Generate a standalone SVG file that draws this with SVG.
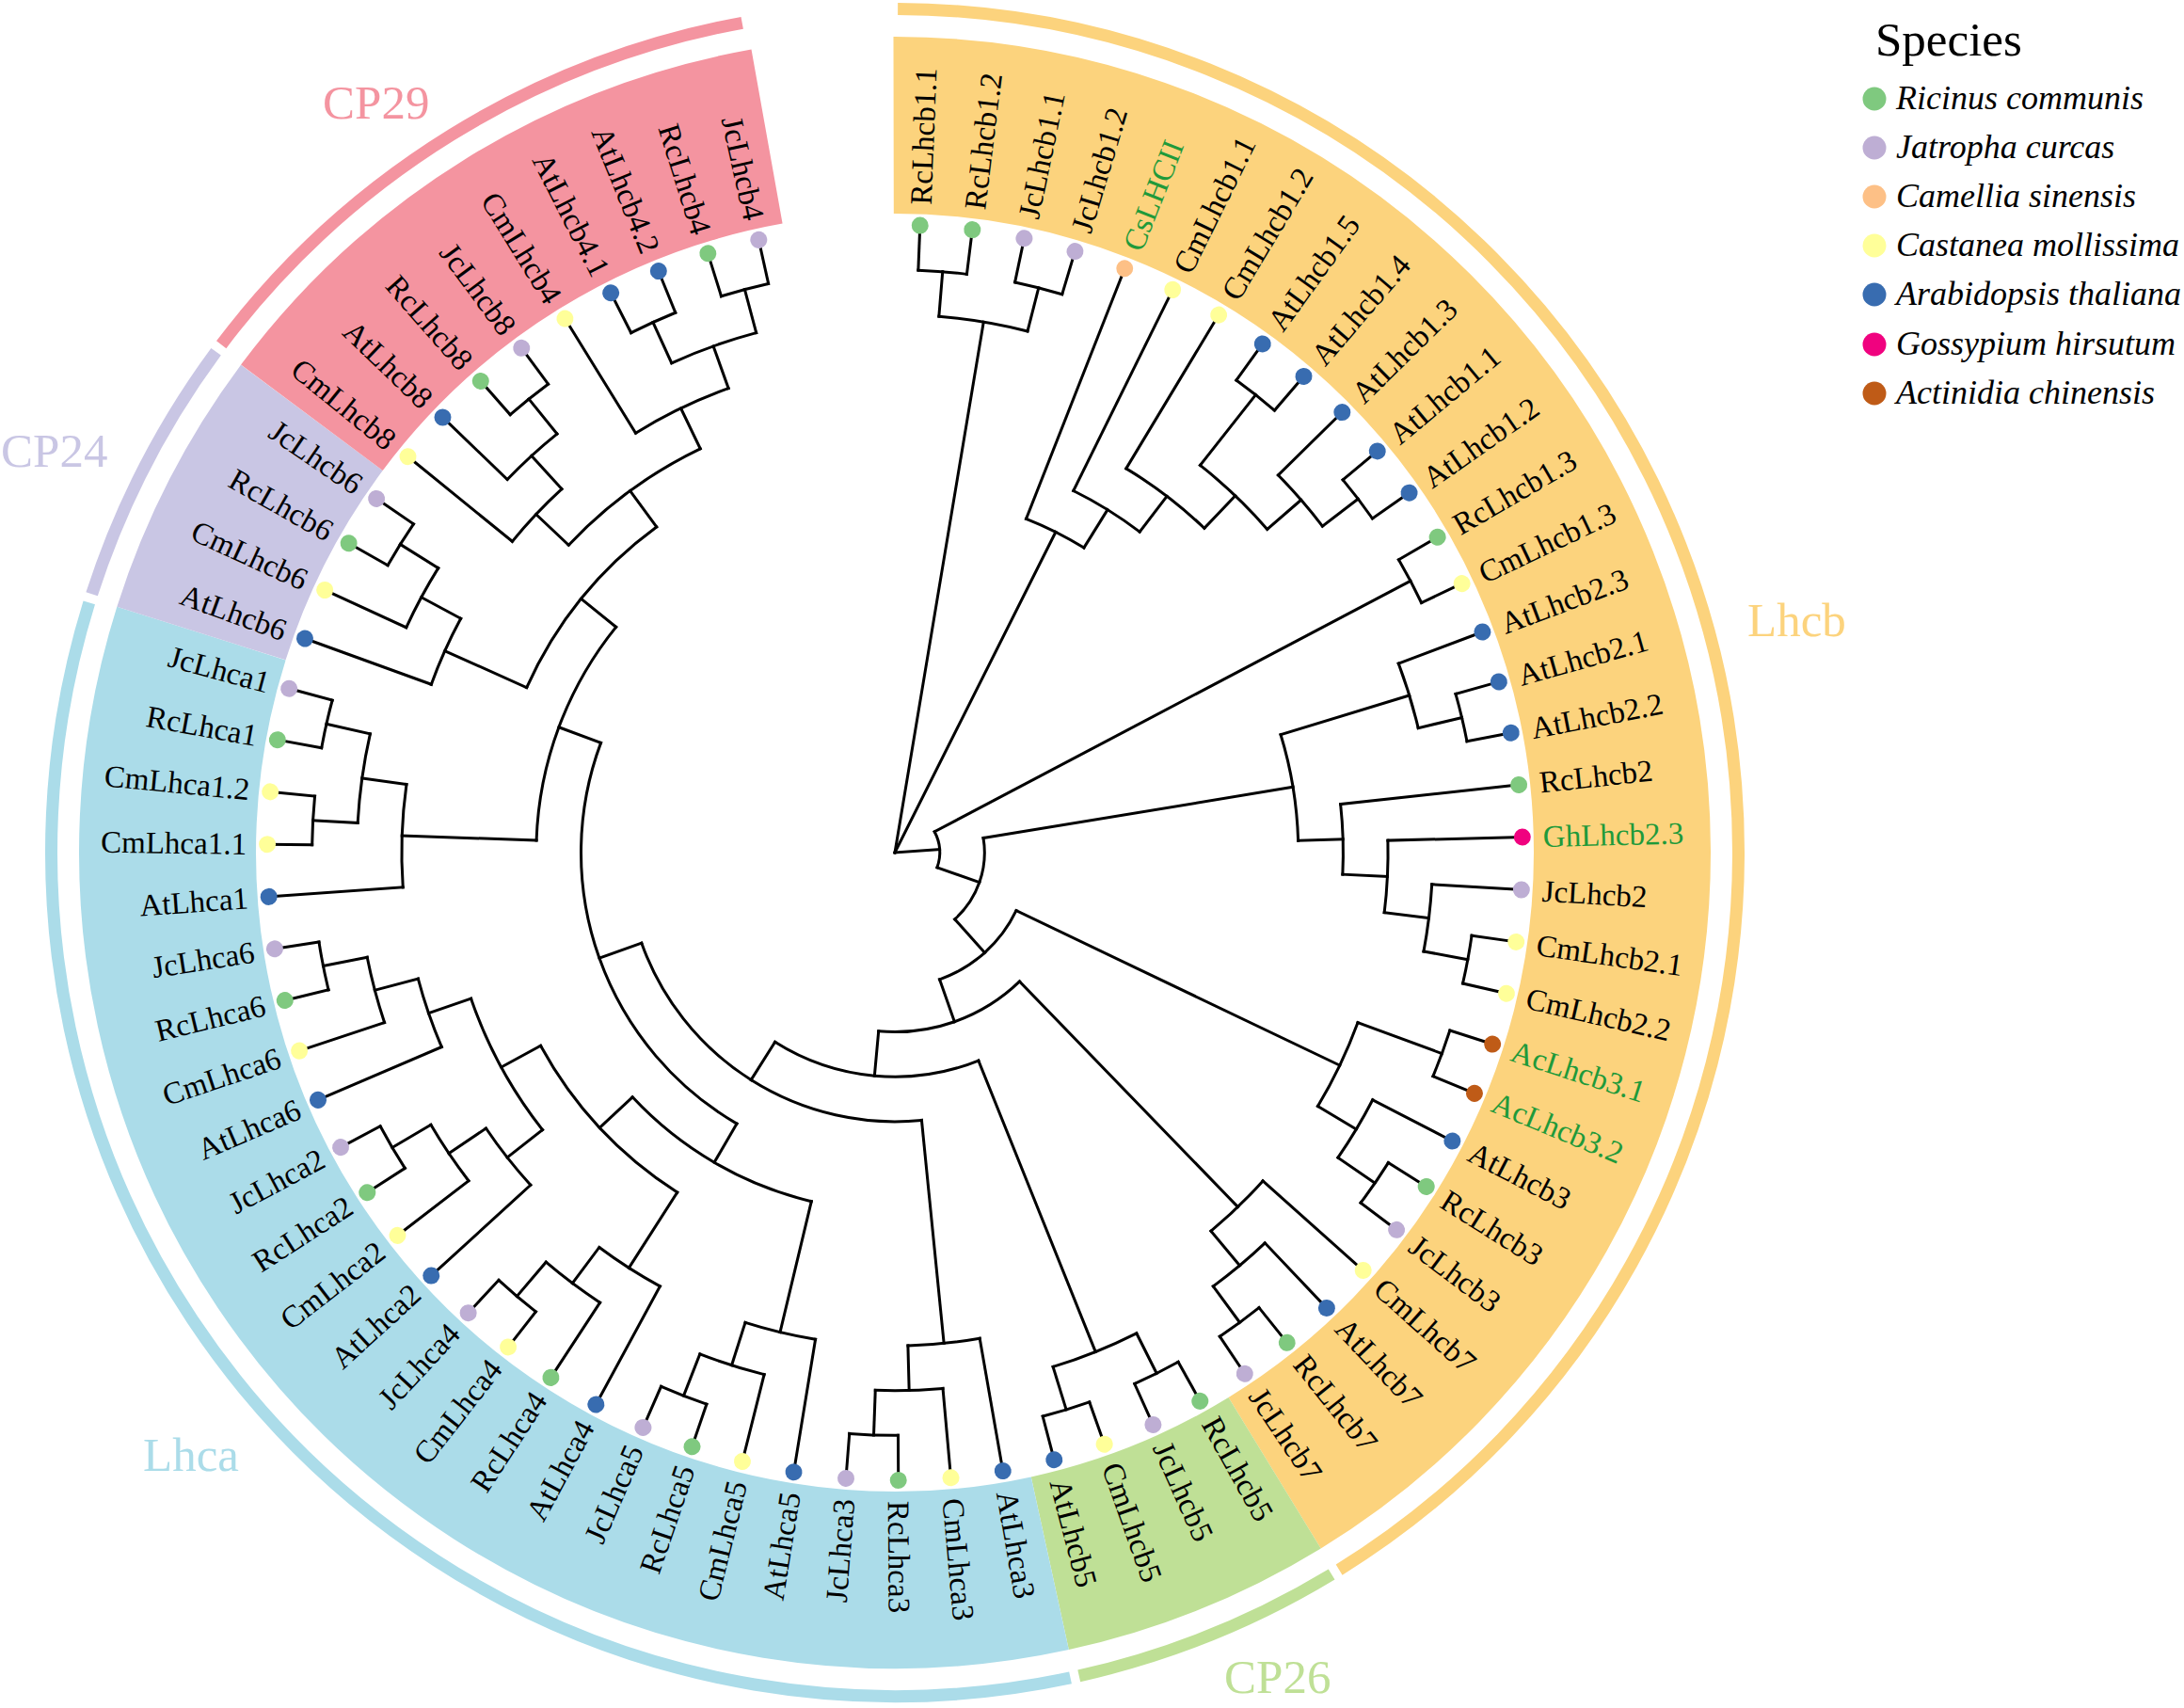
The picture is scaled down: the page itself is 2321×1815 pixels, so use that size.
<svg xmlns="http://www.w3.org/2000/svg" width="2321" height="1815" viewBox="0 0 2321 1815">
<style>
.br line,.br circle{stroke:#000;stroke-width:3;fill:none;stroke-linecap:square}
.tips text{font-family:"Liberation Serif","Times New Roman",serif;font-size:33px;fill:#000;dominant-baseline:central}
.tips text.f{text-anchor:end}
.tips text.gr{fill:#1f9a3a}
.band,.ring{fill:none}
.band{stroke-width:188}
.ring{stroke-width:13}
.Rc{fill:#7FC97F}.Jc{fill:#BEAED4}.Cs{fill:#FDC086}.Cm{fill:#FFFF99}.At{fill:#386CB0}.Gh{fill:#F0027F}.Ac{fill:#BF5B17}
.glab{font-family:"Liberation Serif","Times New Roman",serif;font-size:51px}
.leg text{font-family:"Liberation Serif","Times New Roman",serif;font-size:36px;font-style:italic;fill:#000}
</style>
<rect width="2321" height="1815" fill="#fff"/>
<g id="bands" transform="translate(951,906)">
<circle class="band" r="773" pathLength="360" stroke="#FCD37D" stroke-dasharray="148.62 360" transform="rotate(-90.10)"/>
<circle class="band" r="773" pathLength="360" stroke="#BFE096" stroke-dasharray="19.17 360" transform="rotate(58.52)"/>
<circle class="band" r="773" pathLength="360" stroke="#ABDCE9" stroke-dasharray="119.85 360" transform="rotate(77.69)"/>
<circle class="band" r="773" pathLength="360" stroke="#C9C6E4" stroke-dasharray="19.18 360" transform="rotate(197.54)"/>
<circle class="band" r="773" pathLength="360" stroke="#F494A0" stroke-dasharray="43.15 360" transform="rotate(216.72)"/>
<circle class="ring" r="896.5" pathLength="360" stroke="#FCD37D" stroke-dasharray="148.02 360" transform="rotate(-89.80)"/>
<circle class="ring" r="896.5" pathLength="360" stroke="#BFE096" stroke-dasharray="18.57 360" transform="rotate(58.82)"/>
<circle class="ring" r="896.5" pathLength="360" stroke="#ABDCE9" stroke-dasharray="119.25 360" transform="rotate(77.99)"/>
<circle class="ring" r="896.5" pathLength="360" stroke="#C9C6E4" stroke-dasharray="18.58 360" transform="rotate(197.84)"/>
<circle class="ring" r="896.5" pathLength="360" stroke="#F494A0" stroke-dasharray="42.55 360" transform="rotate(217.02)"/>
</g>
<g id="group-labels" class="glab">
<text x="1857" y="676" fill="#FCD37D">Lhcb</text>
<text x="343" y="126" fill="#F494A0">CP29</text>
<text x="1" y="496" fill="#C9C6E4">CP24</text>
<text x="152" y="1563" fill="#ABDCE9">Lhca</text>
<text x="1301" y="1799" fill="#BFE096">CP26</text>
</g>
<g id="connectors" class="br" transform="translate(951,906)">
<circle r="619.36" pathLength="360" stroke-dasharray="4.79 360" transform="rotate(-87.70)"/>
<circle r="619.36" pathLength="360" stroke-dasharray="4.79 360" transform="rotate(-78.11)"/>
<circle r="619.36" pathLength="360" stroke-dasharray="4.79 360" transform="rotate(-54.14)"/>
<circle r="619.36" pathLength="360" stroke-dasharray="4.79 360" transform="rotate(-39.76)"/>
<circle r="619.36" pathLength="360" stroke-dasharray="4.79 360" transform="rotate(-30.17)"/>
<circle r="619.36" pathLength="360" stroke-dasharray="4.79 360" transform="rotate(-15.79)"/>
<circle r="619.36" pathLength="360" stroke-dasharray="4.79 360" transform="rotate(8.18)"/>
<circle r="619.36" pathLength="360" stroke-dasharray="4.79 360" transform="rotate(17.77)"/>
<circle r="619.36" pathLength="360" stroke-dasharray="4.79 360" transform="rotate(32.15)"/>
<circle r="619.36" pathLength="360" stroke-dasharray="4.79 360" transform="rotate(51.33)"/>
<circle r="619.36" pathLength="360" stroke-dasharray="4.79 360" transform="rotate(60.91)"/>
<circle r="619.36" pathLength="360" stroke-dasharray="4.79 360" transform="rotate(70.50)"/>
<circle r="619.36" pathLength="360" stroke-dasharray="4.79 360" transform="rotate(89.68)"/>
<circle r="619.36" pathLength="360" stroke-dasharray="4.79 360" transform="rotate(108.85)"/>
<circle r="619.36" pathLength="360" stroke-dasharray="4.79 360" transform="rotate(128.03)"/>
<circle r="619.36" pathLength="360" stroke-dasharray="4.79 360" transform="rotate(147.21)"/>
<circle r="619.36" pathLength="360" stroke-dasharray="4.79 360" transform="rotate(166.38)"/>
<circle r="619.36" pathLength="360" stroke-dasharray="4.79 360" transform="rotate(180.76)"/>
<circle r="619.36" pathLength="360" stroke-dasharray="4.79 360" transform="rotate(190.35)"/>
<circle r="619.36" pathLength="360" stroke-dasharray="4.79 360" transform="rotate(209.53)"/>
<circle r="619.36" pathLength="360" stroke-dasharray="4.79 360" transform="rotate(228.70)"/>
<circle r="619.36" pathLength="360" stroke-dasharray="4.79 360" transform="rotate(243.09)"/>
<circle r="619.36" pathLength="360" stroke-dasharray="4.79 360" transform="rotate(252.67)"/>
<circle r="571.71" pathLength="360" stroke-dasharray="9.58 360" transform="rotate(-85.30)"/>
<circle r="571.71" pathLength="360" stroke-dasharray="7.19 360" transform="rotate(-44.55)"/>
<circle r="571.71" pathLength="360" stroke-dasharray="7.19 360" transform="rotate(-20.58)"/>
<circle r="571.71" pathLength="360" stroke-dasharray="7.19 360" transform="rotate(3.39)"/>
<circle r="571.71" pathLength="360" stroke-dasharray="7.19 360" transform="rotate(27.36)"/>
<circle r="571.71" pathLength="360" stroke-dasharray="7.19 360" transform="rotate(46.53)"/>
<circle r="571.71" pathLength="360" stroke-dasharray="9.59 360" transform="rotate(63.31)"/>
<circle r="571.71" pathLength="360" stroke-dasharray="7.20 360" transform="rotate(84.88)"/>
<circle r="571.71" pathLength="360" stroke-dasharray="7.19 360" transform="rotate(104.06)"/>
<circle r="571.71" pathLength="360" stroke-dasharray="7.19 360" transform="rotate(123.24)"/>
<circle r="571.71" pathLength="360" stroke-dasharray="7.19 360" transform="rotate(142.41)"/>
<circle r="571.71" pathLength="360" stroke-dasharray="7.19 360" transform="rotate(161.59)"/>
<circle r="571.71" pathLength="360" stroke-dasharray="9.59 360" transform="rotate(183.16)"/>
<circle r="571.71" pathLength="360" stroke-dasharray="7.20 360" transform="rotate(204.73)"/>
<circle r="571.71" pathLength="360" stroke-dasharray="7.19 360" transform="rotate(223.91)"/>
<circle r="571.71" pathLength="360" stroke-dasharray="9.59 360" transform="rotate(245.48)"/>
<circle r="524.07" pathLength="360" stroke-dasharray="10.79 360" transform="rotate(-51.75)"/>
<circle r="524.07" pathLength="360" stroke-dasharray="8.39 360" transform="rotate(-1.41)"/>
<circle r="524.07" pathLength="360" stroke-dasharray="10.78 360" transform="rotate(20.17)"/>
<circle r="524.07" pathLength="360" stroke-dasharray="8.39 360" transform="rotate(41.74)"/>
<circle r="524.07" pathLength="360" stroke-dasharray="8.39 360" transform="rotate(80.09)"/>
<circle r="524.07" pathLength="360" stroke-dasharray="8.39 360" transform="rotate(99.27)"/>
<circle r="524.07" pathLength="360" stroke-dasharray="8.39 360" transform="rotate(118.44)"/>
<circle r="524.07" pathLength="360" stroke-dasharray="8.39 360" transform="rotate(137.62)"/>
<circle r="524.07" pathLength="360" stroke-dasharray="8.39 360" transform="rotate(156.79)"/>
<circle r="524.07" pathLength="360" stroke-dasharray="11.98 360" transform="rotate(175.97)"/>
<circle r="524.07" pathLength="360" stroke-dasharray="8.39 360" transform="rotate(199.94)"/>
<circle r="524.07" pathLength="360" stroke-dasharray="8.39 360" transform="rotate(219.12)"/>
<circle r="524.07" pathLength="360" stroke-dasharray="11.99 360" transform="rotate(238.29)"/>
<circle r="476.43" pathLength="360" stroke-dasharray="12.59 360" transform="rotate(-58.94)"/>
<circle r="476.43" pathLength="360" stroke-dasharray="8.99 360" transform="rotate(-6.20)"/>
<circle r="476.43" pathLength="360" stroke-dasharray="19.18 360" transform="rotate(141.81)"/>
<circle r="476.43" pathLength="360" stroke-dasharray="20.97 360" transform="rotate(223.31)"/>
<circle r="428.79" pathLength="360" stroke-dasharray="11.09 360" transform="rotate(-63.73)"/>
<circle r="428.79" pathLength="360" stroke-dasharray="15.28 360" transform="rotate(-16.99)"/>
<circle r="428.79" pathLength="360" stroke-dasharray="28.76 360" transform="rotate(122.64)"/>
<circle r="428.79" pathLength="360" stroke-dasharray="29.66 360" transform="rotate(204.14)"/>
<circle r="381.14" pathLength="360" stroke-dasharray="10.33 360" transform="rotate(-68.52)"/>
<circle r="381.14" pathLength="360" stroke-dasharray="33.56 360" transform="rotate(103.46)"/>
<circle r="381.14" pathLength="360" stroke-dasharray="37.01 360" transform="rotate(181.96)"/>
<circle r="333.50" pathLength="360" stroke-dasharray="80.22 360" transform="rotate(120.24)"/>
<circle r="285.86" pathLength="360" stroke-dasharray="76.06 360" transform="rotate(84.29)"/>
<circle r="238.21" pathLength="360" stroke-dasharray="54.22 360" transform="rotate(68.10)"/>
<circle r="190.57" pathLength="360" stroke-dasharray="49.28 360" transform="rotate(45.93)"/>
<circle r="142.93" pathLength="360" stroke-dasharray="45.01 360" transform="rotate(25.56)"/>
<circle r="95.29" pathLength="360" stroke-dasharray="57.42 360" transform="rotate(-9.35)"/>
<circle r="47.64" pathLength="360" stroke-dasharray="47.14 360" transform="rotate(-27.78)"/>
<line x1="0" x2="571.71" transform="rotate(-80.51)"/>
<line x1="0" x2="381.14" transform="rotate(-63.36)"/>
<line x1="0" x2="47.64" transform="rotate(-4.21)"/>
<line x1="571.71" x2="619.36" transform="rotate(-85.30)"/>
<line x1="571.71" x2="619.36" transform="rotate(-75.72)"/>
<line x1="524.07" x2="619.36" transform="rotate(-51.75)"/>
<line x1="571.71" x2="619.36" transform="rotate(-37.36)"/>
<line x1="47.64" x2="619.36" transform="rotate(-27.78)"/>
<line x1="571.71" x2="619.36" transform="rotate(-13.39)"/>
<line x1="571.71" x2="619.36" transform="rotate(10.58)"/>
<line x1="524.07" x2="619.36" transform="rotate(20.17)"/>
<line x1="571.71" x2="619.36" transform="rotate(34.55)"/>
<line x1="571.71" x2="619.36" transform="rotate(53.72)"/>
<line x1="571.71" x2="619.36" transform="rotate(63.31)"/>
<line x1="571.71" x2="619.36" transform="rotate(72.90)"/>
<line x1="571.71" x2="619.36" transform="rotate(92.08)"/>
<line x1="571.71" x2="619.36" transform="rotate(111.25)"/>
<line x1="571.71" x2="619.36" transform="rotate(130.43)"/>
<line x1="571.71" x2="619.36" transform="rotate(149.60)"/>
<line x1="571.71" x2="619.36" transform="rotate(168.78)"/>
<line x1="571.71" x2="619.36" transform="rotate(183.16)"/>
<line x1="571.71" x2="619.36" transform="rotate(192.75)"/>
<line x1="571.71" x2="619.36" transform="rotate(211.93)"/>
<line x1="571.71" x2="619.36" transform="rotate(231.10)"/>
<line x1="571.71" x2="619.36" transform="rotate(245.48)"/>
<line x1="571.71" x2="619.36" transform="rotate(255.07)"/>
<line x1="524.07" x2="571.71" transform="rotate(-40.96)"/>
<line x1="476.43" x2="524.07" transform="rotate(-46.35)"/>
<line x1="428.79" x2="476.43" transform="rotate(-52.64)"/>
<line x1="381.14" x2="428.79" transform="rotate(-58.19)"/>
<line x1="428.79" x2="571.71" transform="rotate(-16.99)"/>
<line x1="524.07" x2="571.71" transform="rotate(6.98)"/>
<line x1="476.43" x2="524.07" transform="rotate(2.79)"/>
<line x1="428.79" x2="476.43" transform="rotate(-1.71)"/>
<line x1="95.29" x2="428.79" transform="rotate(-9.35)"/>
<line x1="524.07" x2="571.71" transform="rotate(30.95)"/>
<line x1="142.93" x2="524.07" transform="rotate(25.56)"/>
<line x1="524.07" x2="571.71" transform="rotate(50.13)"/>
<line x1="190.57" x2="524.07" transform="rotate(45.93)"/>
<line x1="238.21" x2="571.71" transform="rotate(68.10)"/>
<line x1="524.07" x2="571.71" transform="rotate(88.48)"/>
<line x1="285.86" x2="524.07" transform="rotate(84.29)"/>
<line x1="524.07" x2="571.71" transform="rotate(107.66)"/>
<line x1="381.14" x2="524.07" transform="rotate(103.46)"/>
<line x1="524.07" x2="571.71" transform="rotate(126.83)"/>
<line x1="428.79" x2="524.07" transform="rotate(122.64)"/>
<line x1="524.07" x2="571.71" transform="rotate(146.01)"/>
<line x1="476.43" x2="524.07" transform="rotate(141.81)"/>
<line x1="524.07" x2="571.71" transform="rotate(165.18)"/>
<line x1="476.43" x2="524.07" transform="rotate(160.99)"/>
<line x1="428.79" x2="476.43" transform="rotate(151.40)"/>
<line x1="381.14" x2="428.79" transform="rotate(137.02)"/>
<line x1="333.50" x2="381.14" transform="rotate(120.24)"/>
<line x1="524.07" x2="571.71" transform="rotate(187.95)"/>
<line x1="381.14" x2="524.07" transform="rotate(181.96)"/>
<line x1="524.07" x2="571.71" transform="rotate(208.33)"/>
<line x1="428.79" x2="524.07" transform="rotate(204.14)"/>
<line x1="524.07" x2="571.71" transform="rotate(227.51)"/>
<line x1="476.43" x2="524.07" transform="rotate(223.31)"/>
<line x1="524.07" x2="571.71" transform="rotate(250.28)"/>
<line x1="476.43" x2="524.07" transform="rotate(244.28)"/>
<line x1="428.79" x2="476.43" transform="rotate(233.80)"/>
<line x1="381.14" x2="428.79" transform="rotate(218.97)"/>
<line x1="333.50" x2="381.14" transform="rotate(200.46)"/>
<line x1="285.86" x2="333.50" transform="rotate(160.35)"/>
<line x1="238.21" x2="285.86" transform="rotate(122.32)"/>
<line x1="190.57" x2="238.21" transform="rotate(95.21)"/>
<line x1="142.93" x2="190.57" transform="rotate(70.57)"/>
<line x1="95.29" x2="142.93" transform="rotate(48.07)"/>
<line x1="47.64" x2="95.29" transform="rotate(19.36)"/>
<line x1="619.36" x2="667" transform="rotate(-87.70)"/>
<line x1="619.36" x2="667" transform="rotate(-82.91)"/>
<line x1="619.36" x2="667" transform="rotate(-78.11)"/>
<line x1="619.36" x2="667" transform="rotate(-73.32)"/>
<line x1="381.14" x2="667" transform="rotate(-68.52)"/>
<line x1="428.79" x2="667" transform="rotate(-63.73)"/>
<line x1="476.43" x2="667" transform="rotate(-58.94)"/>
<line x1="619.36" x2="667" transform="rotate(-54.14)"/>
<line x1="619.36" x2="667" transform="rotate(-49.35)"/>
<line x1="571.71" x2="667" transform="rotate(-44.55)"/>
<line x1="619.36" x2="667" transform="rotate(-39.76)"/>
<line x1="619.36" x2="667" transform="rotate(-34.97)"/>
<line x1="619.36" x2="667" transform="rotate(-30.17)"/>
<line x1="619.36" x2="667" transform="rotate(-25.38)"/>
<line x1="571.71" x2="667" transform="rotate(-20.58)"/>
<line x1="619.36" x2="667" transform="rotate(-15.79)"/>
<line x1="619.36" x2="667" transform="rotate(-11.00)"/>
<line x1="476.43" x2="667" transform="rotate(-6.20)"/>
<line x1="524.07" x2="667" transform="rotate(-1.41)"/>
<line x1="571.71" x2="667" transform="rotate(3.39)"/>
<line x1="619.36" x2="667" transform="rotate(8.18)"/>
<line x1="619.36" x2="667" transform="rotate(12.97)"/>
<line x1="619.36" x2="667" transform="rotate(17.77)"/>
<line x1="619.36" x2="667" transform="rotate(22.56)"/>
<line x1="571.71" x2="667" transform="rotate(27.36)"/>
<line x1="619.36" x2="667" transform="rotate(32.15)"/>
<line x1="619.36" x2="667" transform="rotate(36.94)"/>
<line x1="524.07" x2="667" transform="rotate(41.74)"/>
<line x1="571.71" x2="667" transform="rotate(46.53)"/>
<line x1="619.36" x2="667" transform="rotate(51.33)"/>
<line x1="619.36" x2="667" transform="rotate(56.12)"/>
<line x1="619.36" x2="667" transform="rotate(60.91)"/>
<line x1="619.36" x2="667" transform="rotate(65.71)"/>
<line x1="619.36" x2="667" transform="rotate(70.50)"/>
<line x1="619.36" x2="667" transform="rotate(75.30)"/>
<line x1="524.07" x2="667" transform="rotate(80.09)"/>
<line x1="571.71" x2="667" transform="rotate(84.88)"/>
<line x1="619.36" x2="667" transform="rotate(89.68)"/>
<line x1="619.36" x2="667" transform="rotate(94.47)"/>
<line x1="524.07" x2="667" transform="rotate(99.27)"/>
<line x1="571.71" x2="667" transform="rotate(104.06)"/>
<line x1="619.36" x2="667" transform="rotate(108.85)"/>
<line x1="619.36" x2="667" transform="rotate(113.65)"/>
<line x1="524.07" x2="667" transform="rotate(118.44)"/>
<line x1="571.71" x2="667" transform="rotate(123.24)"/>
<line x1="619.36" x2="667" transform="rotate(128.03)"/>
<line x1="619.36" x2="667" transform="rotate(132.82)"/>
<line x1="524.07" x2="667" transform="rotate(137.62)"/>
<line x1="571.71" x2="667" transform="rotate(142.41)"/>
<line x1="619.36" x2="667" transform="rotate(147.21)"/>
<line x1="619.36" x2="667" transform="rotate(152.00)"/>
<line x1="524.07" x2="667" transform="rotate(156.79)"/>
<line x1="571.71" x2="667" transform="rotate(161.59)"/>
<line x1="619.36" x2="667" transform="rotate(166.38)"/>
<line x1="619.36" x2="667" transform="rotate(171.18)"/>
<line x1="524.07" x2="667" transform="rotate(175.97)"/>
<line x1="619.36" x2="667" transform="rotate(180.76)"/>
<line x1="619.36" x2="667" transform="rotate(185.56)"/>
<line x1="619.36" x2="667" transform="rotate(190.35)"/>
<line x1="619.36" x2="667" transform="rotate(195.15)"/>
<line x1="524.07" x2="667" transform="rotate(199.94)"/>
<line x1="571.71" x2="667" transform="rotate(204.73)"/>
<line x1="619.36" x2="667" transform="rotate(209.53)"/>
<line x1="619.36" x2="667" transform="rotate(214.32)"/>
<line x1="524.07" x2="667" transform="rotate(219.12)"/>
<line x1="571.71" x2="667" transform="rotate(223.91)"/>
<line x1="619.36" x2="667" transform="rotate(228.70)"/>
<line x1="619.36" x2="667" transform="rotate(233.50)"/>
<line x1="524.07" x2="667" transform="rotate(238.29)"/>
<line x1="619.36" x2="667" transform="rotate(243.09)"/>
<line x1="619.36" x2="667" transform="rotate(247.88)"/>
<line x1="619.36" x2="667" transform="rotate(252.67)"/>
<line x1="619.36" x2="667" transform="rotate(257.47)"/>
</g>
<g id="tips" class="tips" transform="translate(951,906)">
<g id="t01"><circle class="Rc" cx="667" r="9" transform="rotate(-87.70)"/><text transform="rotate(-87.70) translate(689 0)">RcLhcb1.1</text></g>
<g id="t02"><circle class="Rc" cx="667" r="9" transform="rotate(-82.91)"/><text transform="rotate(-82.91) translate(689 0)">RcLhcb1.2</text></g>
<g id="t03"><circle class="Jc" cx="667" r="9" transform="rotate(-78.11)"/><text transform="rotate(-78.11) translate(689 0)">JcLhcb1.1</text></g>
<g id="t04"><circle class="Jc" cx="667" r="9" transform="rotate(-73.32)"/><text transform="rotate(-73.32) translate(689 0)">JcLhcb1.2</text></g>
<g id="t05"><circle class="Cs" cx="667" r="9" transform="rotate(-68.52)"/><text class="gr" transform="rotate(-68.52) translate(689 0)">CsLHCII</text></g>
<g id="t06"><circle class="Cm" cx="667" r="9" transform="rotate(-63.73)"/><text transform="rotate(-63.73) translate(689 0)">CmLhcb1.1</text></g>
<g id="t07"><circle class="Cm" cx="667" r="9" transform="rotate(-58.94)"/><text transform="rotate(-58.94) translate(689 0)">CmLhcb1.2</text></g>
<g id="t08"><circle class="At" cx="667" r="9" transform="rotate(-54.14)"/><text transform="rotate(-54.14) translate(689 0)">AtLhcb1.5</text></g>
<g id="t09"><circle class="At" cx="667" r="9" transform="rotate(-49.35)"/><text transform="rotate(-49.35) translate(689 0)">AtLhcb1.4</text></g>
<g id="t10"><circle class="At" cx="667" r="9" transform="rotate(-44.55)"/><text transform="rotate(-44.55) translate(689 0)">AtLhcb1.3</text></g>
<g id="t11"><circle class="At" cx="667" r="9" transform="rotate(-39.76)"/><text transform="rotate(-39.76) translate(689 0)">AtLhcb1.1</text></g>
<g id="t12"><circle class="At" cx="667" r="9" transform="rotate(-34.97)"/><text transform="rotate(-34.97) translate(689 0)">AtLhcb1.2</text></g>
<g id="t13"><circle class="Rc" cx="667" r="9" transform="rotate(-30.17)"/><text transform="rotate(-30.17) translate(689 0)">RcLhcb1.3</text></g>
<g id="t14"><circle class="Cm" cx="667" r="9" transform="rotate(-25.38)"/><text transform="rotate(-25.38) translate(689 0)">CmLhcb1.3</text></g>
<g id="t15"><circle class="At" cx="667" r="9" transform="rotate(-20.58)"/><text transform="rotate(-20.58) translate(689 0)">AtLhcb2.3</text></g>
<g id="t16"><circle class="At" cx="667" r="9" transform="rotate(-15.79)"/><text transform="rotate(-15.79) translate(689 0)">AtLhcb2.1</text></g>
<g id="t17"><circle class="At" cx="667" r="9" transform="rotate(-11.00)"/><text transform="rotate(-11.00) translate(689 0)">AtLhcb2.2</text></g>
<g id="t18"><circle class="Rc" cx="667" r="9" transform="rotate(-6.20)"/><text transform="rotate(-6.20) translate(689 0)">RcLhcb2</text></g>
<g id="t19"><circle class="Gh" cx="667" r="9" transform="rotate(-1.41)"/><text class="gr" transform="rotate(-1.41) translate(689 0)">GhLhcb2.3</text></g>
<g id="t20"><circle class="Jc" cx="667" r="9" transform="rotate(3.39)"/><text transform="rotate(3.39) translate(689 0)">JcLhcb2</text></g>
<g id="t21"><circle class="Cm" cx="667" r="9" transform="rotate(8.18)"/><text transform="rotate(8.18) translate(689 0)">CmLhcb2.1</text></g>
<g id="t22"><circle class="Cm" cx="667" r="9" transform="rotate(12.97)"/><text transform="rotate(12.97) translate(689 0)">CmLhcb2.2</text></g>
<g id="t23"><circle class="Ac" cx="667" r="9" transform="rotate(17.77)"/><text class="gr" transform="rotate(17.77) translate(689 0)">AcLhcb3.1</text></g>
<g id="t24"><circle class="Ac" cx="667" r="9" transform="rotate(22.56)"/><text class="gr" transform="rotate(22.56) translate(689 0)">AcLhcb3.2</text></g>
<g id="t25"><circle class="At" cx="667" r="9" transform="rotate(27.36)"/><text transform="rotate(27.36) translate(689 0)">AtLhcb3</text></g>
<g id="t26"><circle class="Rc" cx="667" r="9" transform="rotate(32.15)"/><text transform="rotate(32.15) translate(689 0)">RcLhcb3</text></g>
<g id="t27"><circle class="Jc" cx="667" r="9" transform="rotate(36.94)"/><text transform="rotate(36.94) translate(689 0)">JcLhcb3</text></g>
<g id="t28"><circle class="Cm" cx="667" r="9" transform="rotate(41.74)"/><text transform="rotate(41.74) translate(689 0)">CmLhcb7</text></g>
<g id="t29"><circle class="At" cx="667" r="9" transform="rotate(46.53)"/><text transform="rotate(46.53) translate(689 0)">AtLhcb7</text></g>
<g id="t30"><circle class="Rc" cx="667" r="9" transform="rotate(51.33)"/><text transform="rotate(51.33) translate(689 0)">RcLhcb7</text></g>
<g id="t31"><circle class="Jc" cx="667" r="9" transform="rotate(56.12)"/><text transform="rotate(56.12) translate(689 0)">JcLhcb7</text></g>
<g id="t32"><circle class="Rc" cx="667" r="9" transform="rotate(60.91)"/><text transform="rotate(60.91) translate(689 0)">RcLhcb5</text></g>
<g id="t33"><circle class="Jc" cx="667" r="9" transform="rotate(65.71)"/><text transform="rotate(65.71) translate(689 0)">JcLhcb5</text></g>
<g id="t34"><circle class="Cm" cx="667" r="9" transform="rotate(70.50)"/><text transform="rotate(70.50) translate(689 0)">CmLhcb5</text></g>
<g id="t35"><circle class="At" cx="667" r="9" transform="rotate(75.30)"/><text transform="rotate(75.30) translate(689 0)">AtLhcb5</text></g>
<g id="t36"><circle class="At" cx="667" r="9" transform="rotate(80.09)"/><text transform="rotate(80.09) translate(689 0)">AtLhca3</text></g>
<g id="t37"><circle class="Cm" cx="667" r="9" transform="rotate(84.88)"/><text transform="rotate(84.88) translate(689 0)">CmLhca3</text></g>
<g id="t38"><circle class="Rc" cx="667" r="9" transform="rotate(89.68)"/><text transform="rotate(89.68) translate(689 0)">RcLhca3</text></g>
<g id="t39"><circle class="Jc" cx="667" r="9" transform="rotate(94.47)"/><text class="f" transform="rotate(94.47) translate(689 0) rotate(180)">JcLhca3</text></g>
<g id="t40"><circle class="At" cx="667" r="9" transform="rotate(99.27)"/><text class="f" transform="rotate(99.27) translate(689 0) rotate(180)">AtLhca5</text></g>
<g id="t41"><circle class="Cm" cx="667" r="9" transform="rotate(104.06)"/><text class="f" transform="rotate(104.06) translate(689 0) rotate(180)">CmLhca5</text></g>
<g id="t42"><circle class="Rc" cx="667" r="9" transform="rotate(108.85)"/><text class="f" transform="rotate(108.85) translate(689 0) rotate(180)">RcLhca5</text></g>
<g id="t43"><circle class="Jc" cx="667" r="9" transform="rotate(113.65)"/><text class="f" transform="rotate(113.65) translate(689 0) rotate(180)">JcLhca5</text></g>
<g id="t44"><circle class="At" cx="667" r="9" transform="rotate(118.44)"/><text class="f" transform="rotate(118.44) translate(689 0) rotate(180)">AtLhca4</text></g>
<g id="t45"><circle class="Rc" cx="667" r="9" transform="rotate(123.24)"/><text class="f" transform="rotate(123.24) translate(689 0) rotate(180)">RcLhca4</text></g>
<g id="t46"><circle class="Cm" cx="667" r="9" transform="rotate(128.03)"/><text class="f" transform="rotate(128.03) translate(689 0) rotate(180)">CmLhca4</text></g>
<g id="t47"><circle class="Jc" cx="667" r="9" transform="rotate(132.82)"/><text class="f" transform="rotate(132.82) translate(689 0) rotate(180)">JcLhca4</text></g>
<g id="t48"><circle class="At" cx="667" r="9" transform="rotate(137.62)"/><text class="f" transform="rotate(137.62) translate(689 0) rotate(180)">AtLhca2</text></g>
<g id="t49"><circle class="Cm" cx="667" r="9" transform="rotate(142.41)"/><text class="f" transform="rotate(142.41) translate(689 0) rotate(180)">CmLhca2</text></g>
<g id="t50"><circle class="Rc" cx="667" r="9" transform="rotate(147.21)"/><text class="f" transform="rotate(147.21) translate(689 0) rotate(180)">RcLhca2</text></g>
<g id="t51"><circle class="Jc" cx="667" r="9" transform="rotate(152.00)"/><text class="f" transform="rotate(152.00) translate(689 0) rotate(180)">JcLhca2</text></g>
<g id="t52"><circle class="At" cx="667" r="9" transform="rotate(156.79)"/><text class="f" transform="rotate(156.79) translate(689 0) rotate(180)">AtLhca6</text></g>
<g id="t53"><circle class="Cm" cx="667" r="9" transform="rotate(161.59)"/><text class="f" transform="rotate(161.59) translate(689 0) rotate(180)">CmLhca6</text></g>
<g id="t54"><circle class="Rc" cx="667" r="9" transform="rotate(166.38)"/><text class="f" transform="rotate(166.38) translate(689 0) rotate(180)">RcLhca6</text></g>
<g id="t55"><circle class="Jc" cx="667" r="9" transform="rotate(171.18)"/><text class="f" transform="rotate(171.18) translate(689 0) rotate(180)">JcLhca6</text></g>
<g id="t56"><circle class="At" cx="667" r="9" transform="rotate(175.97)"/><text class="f" transform="rotate(175.97) translate(689 0) rotate(180)">AtLhca1</text></g>
<g id="t57"><circle class="Cm" cx="667" r="9" transform="rotate(180.76)"/><text class="f" transform="rotate(180.76) translate(689 0) rotate(180)">CmLhca1.1</text></g>
<g id="t58"><circle class="Cm" cx="667" r="9" transform="rotate(185.56)"/><text class="f" transform="rotate(185.56) translate(689 0) rotate(180)">CmLhca1.2</text></g>
<g id="t59"><circle class="Rc" cx="667" r="9" transform="rotate(190.35)"/><text class="f" transform="rotate(190.35) translate(689 0) rotate(180)">RcLhca1</text></g>
<g id="t60"><circle class="Jc" cx="667" r="9" transform="rotate(195.15)"/><text class="f" transform="rotate(195.15) translate(689 0) rotate(180)">JcLhca1</text></g>
<g id="t61"><circle class="At" cx="667" r="9" transform="rotate(199.94)"/><text class="f" transform="rotate(199.94) translate(689 0) rotate(180)">AtLhcb6</text></g>
<g id="t62"><circle class="Cm" cx="667" r="9" transform="rotate(204.73)"/><text class="f" transform="rotate(204.73) translate(689 0) rotate(180)">CmLhcb6</text></g>
<g id="t63"><circle class="Rc" cx="667" r="9" transform="rotate(209.53)"/><text class="f" transform="rotate(209.53) translate(689 0) rotate(180)">RcLhcb6</text></g>
<g id="t64"><circle class="Jc" cx="667" r="9" transform="rotate(214.32)"/><text class="f" transform="rotate(214.32) translate(689 0) rotate(180)">JcLhcb6</text></g>
<g id="t65"><circle class="Cm" cx="667" r="9" transform="rotate(219.12)"/><text class="f" transform="rotate(219.12) translate(689 0) rotate(180)">CmLhcb8</text></g>
<g id="t66"><circle class="At" cx="667" r="9" transform="rotate(223.91)"/><text class="f" transform="rotate(223.91) translate(689 0) rotate(180)">AtLhcb8</text></g>
<g id="t67"><circle class="Rc" cx="667" r="9" transform="rotate(228.70)"/><text class="f" transform="rotate(228.70) translate(689 0) rotate(180)">RcLhcb8</text></g>
<g id="t68"><circle class="Jc" cx="667" r="9" transform="rotate(233.50)"/><text class="f" transform="rotate(233.50) translate(689 0) rotate(180)">JcLhcb8</text></g>
<g id="t69"><circle class="Cm" cx="667" r="9" transform="rotate(238.29)"/><text class="f" transform="rotate(238.29) translate(689 0) rotate(180)">CmLhcb4</text></g>
<g id="t70"><circle class="At" cx="667" r="9" transform="rotate(243.09)"/><text class="f" transform="rotate(243.09) translate(689 0) rotate(180)">AtLhcb4.1</text></g>
<g id="t71"><circle class="At" cx="667" r="9" transform="rotate(247.88)"/><text class="f" transform="rotate(247.88) translate(689 0) rotate(180)">AtLhcb4.2</text></g>
<g id="t72"><circle class="Rc" cx="667" r="9" transform="rotate(252.67)"/><text class="f" transform="rotate(252.67) translate(689 0) rotate(180)">RcLhcb4</text></g>
<g id="t73"><circle class="Jc" cx="667" r="9" transform="rotate(257.47)"/><text class="f" transform="rotate(257.47) translate(689 0) rotate(180)">JcLhcb4</text></g>
</g>
<g id="legend" class="leg">
<text x="1993" y="59" style="font-size:51px;font-style:normal">Species</text>
<circle class="Rc" cx="1992" cy="105" r="12.5"/><text x="2015" y="116">Ricinus communis</text>
<circle class="Jc" cx="1992" cy="157" r="12.5"/><text x="2015" y="168">Jatropha curcas</text>
<circle class="Cs" cx="1992" cy="209" r="12.5"/><text x="2015" y="220">Camellia sinensis</text>
<circle class="Cm" cx="1992" cy="261" r="12.5"/><text x="2015" y="272">Castanea mollissima</text>
<circle class="At" cx="1992" cy="313" r="12.5"/><text x="2015" y="324">Arabidopsis thaliana</text>
<circle class="Gh" cx="1992" cy="366" r="12.5"/><text x="2015" y="377">Gossypium hirsutum</text>
<circle class="Ac" cx="1992" cy="418" r="12.5"/><text x="2015" y="429">Actinidia chinensis</text>
</g>
</svg>
